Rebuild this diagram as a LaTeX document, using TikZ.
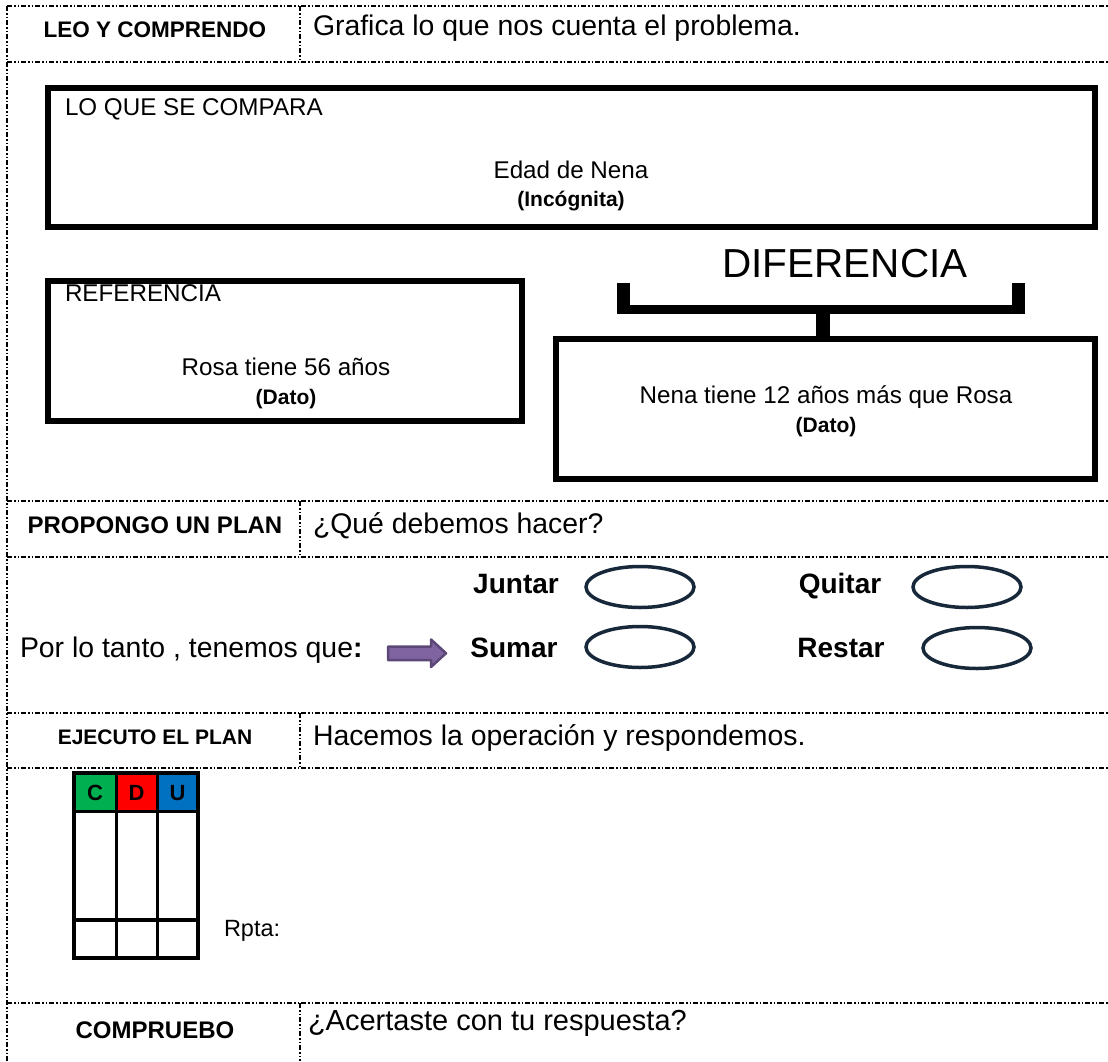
\documentclass[tikz,border=0pt]{standalone}
\usepackage{fontspec}
\setmainfont{Liberation Sans}
\usetikzlibrary{shapes.geometric}
\definecolor{ovalcol}{HTML}{17283A}
\definecolor{arrowfill}{HTML}{8064A2}
\definecolor{arrowdraw}{HTML}{5C4776}
\definecolor{cgreen}{HTML}{00B050}
\definecolor{dred}{HTML}{FF0000}
\definecolor{ublue}{HTML}{0070C0}
\newcommand\fsz[1]{\fontsize{#1}{#1}\selectfont}
\begin{document}
\begin{tikzpicture}[x=1pt,y=-1pt,
  gridline/.style={line width=1.3pt, dash pattern=on 5pt off 2pt on 1.5pt off 2pt on 1.5pt off 2pt},
  bigbox/.style={draw, line width=6pt, inner sep=0pt},
  oval/.style={draw=ovalcol, line width=3.5pt, ellipse, minimum width=108pt, minimum height=41pt, inner sep=0pt},
  txt/.style={inner sep=0pt, outer sep=0pt},
  head/.style={txt, anchor=base, font=\fsz{22.5}\bfseries},
  body/.style={txt, anchor=base west, font=\fsz{28.4}},
  boxtxt/.style={txt, font=\fsz{24.2}},
  tag/.style={txt, anchor=base, font=\fsz{21}\bfseries},
  choice/.style={txt, anchor=base, font=\fsz{28}\bfseries},
]
\useasboundingbox (0,0) rectangle (1108,1061);

% table grid
\foreach \yy in {6,62,501,557,713,768,1003}
  \draw[gridline] (7,\yy) -- (1108,\yy);
\draw[gridline] (7,6) -- (7,1061);
\draw[gridline] (300,6) -- (300,62);
\draw[gridline] (300,501) -- (300,557);
\draw[gridline] (300,713) -- (300,768);
\draw[gridline] (300,1003) -- (300,1061);

% row headers
\node[head] (h1) at (155,37) {LEO Y COMPRENDO};
\node[body] (t1) at (313,35) {Grafica lo que nos cuenta el problema.};
\node[head, font=\fsz{24}\bfseries] (h2) at (155,533) {PROPONGO UN PLAN};
\node[body] (t2) at (313,533) {¿Qué debemos hacer?};
\node[head, font=\fsz{21}\bfseries] (h3) at (155,744) {EJECUTO EL PLAN};
\node[body] (t3) at (313,745) {Hacemos la operación y respondemos.};
\node[head, font=\fsz{24}\bfseries] (h4) at (155,1038) {COMPRUEBO};
\node[body, font=\fsz{29}] (t4) at (308,1030) {¿Acertaste con tu respuesta?};

% comparison boxes
\node[bigbox, minimum width=1047pt, minimum height=139pt] (cmp) at (571.5,157.5) {};
\node[boxtxt, anchor=base west] (cmpt) at (65,115) {LO QUE SE COMPARA};
\node[boxtxt, anchor=base] (edad) at (571,178) {Edad de Nena};
\node[tag] (inc) at (571,206) {(Incógnita)};

\node[bigbox, minimum width=474pt, minimum height=140pt] (ref) at (285,351) {};
\node[boxtxt, anchor=base west] (reft) at (65,301) {REFERENCIA};
\node[boxtxt, anchor=base] (rosa) at (286,375) {Rosa tiene 56 años};
\node[tag] (dato1) at (286,404) {(Dato)};

\node[bigbox, minimum width=539pt, minimum height=140pt] (dif) at (825.5,408.5) {};
\node[boxtxt, anchor=base] (nena) at (826,403) {Nena tiene 12 años más que Rosa};
\node[tag] (dato2) at (826,432) {(Dato)};

\node[txt, anchor=base, font=\fsz{40.5}] (dift) at (845,277) {DIFERENCIA};
\fill (617,283) rectangle (630,313.5);
\fill (1012,283) rectangle (1025,313.5);
\fill (617,304.5) rectangle (1025,313.5);
\coordinate (stemtop) at (823,313);
\draw[line width=14pt] (stemtop) -- (dif.north -| stemtop);

% plan section
\node[choice] (juntar) at (516,593) {Juntar};
\node[oval] (o1) at (640,587) {};
\node[choice] (quitar) at (840,593) {Quitar};
\node[oval] (o2) at (967,587) {};
\node[choice] (sumar) at (514,657) {Sumar};
\node[oval] (o3) at (640,647) {};
\node[choice] (restar) at (841,657) {Restar};
\node[oval] (o4) at (977,648) {};
\node[body] (porlo) at (20,657) {Por lo tanto , tenemos que\textbf{:}};
\draw[fill=arrowfill, draw=arrowdraw, line width=2.5pt, line join=round]
  (388,646.5) -- (431,646.5) -- (431,639.5) -- (446,653.25) -- (431,667) -- (431,660) -- (388,660) -- cycle;

% CDU table
\fill[cgreen] (74,773) rectangle (116,811);
\fill[dred] (116,773) rectangle (157,811);
\fill[ublue] (157,773) rectangle (198,811);
\node[txt, font=\fsz{22}\bfseries] (cc) at (95,793) {C};
\node[txt, font=\fsz{22}\bfseries] (cd) at (136.5,793) {D};
\node[txt, font=\fsz{22}\bfseries] (cu) at (177.5,793) {U};
\draw[line width=3pt] (116,773) -- (116,958) (157,773) -- (157,958);
\draw[line width=3pt] (74,811) -- (198,811);
\draw[line width=4pt] (74,920) -- (198,920);
\draw[line width=4pt] (74,773) rectangle (198,958);
\node[txt, anchor=base west, font=\fsz{23.5}] (rpta) at (224,936) {Rpta:};
\end{tikzpicture}
\end{document}
